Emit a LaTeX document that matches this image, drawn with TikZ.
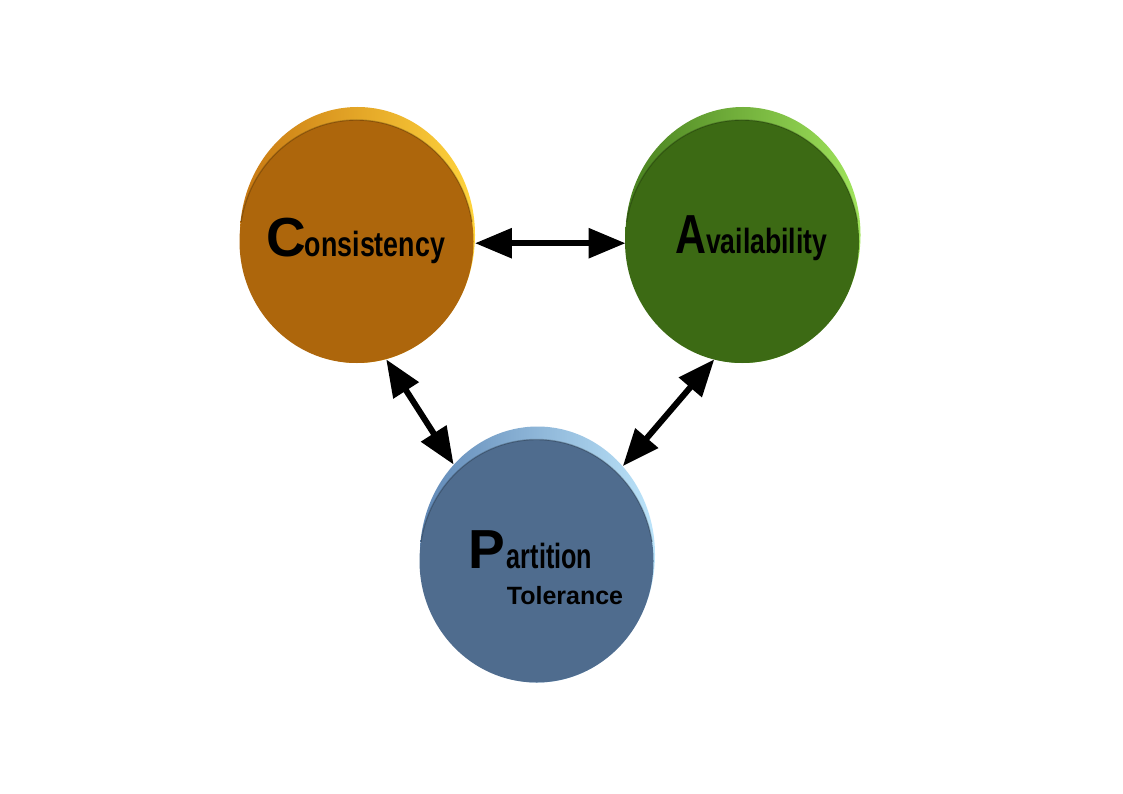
\documentclass[tikz,border=0pt]{standalone}
\usepackage{graphicx}
\usepackage{fontspec}
\setmainfont{Liberation Sans}
\usetikzlibrary{arrows.meta,shapes.geometric}

% colours of the three discs: face, rim shadow side, rim middle, rim lit side
\definecolor{cface}{HTML}{AD660C}
\definecolor{crimD}{HTML}{C87812}
\definecolor{crimM}{HTML}{F29A1C}
\definecolor{crimL}{HTML}{FFD43C}
\definecolor{aface}{HTML}{3C6A14}
\definecolor{arimD}{HTML}{48801E}
\definecolor{arimM}{HTML}{64A42E}
\definecolor{arimL}{HTML}{A0E45C}
\definecolor{pface}{HTML}{4F6C8E}
\definecolor{primD}{HTML}{6088B6}
\definecolor{primM}{HTML}{86B2E0}
\definecolor{primL}{HTML}{BCE4FA}

% initial capital and the narrow rest of each word
\newcommand\initcap{\fontsize{55}{55}\selectfont\bfseries}
\newcommand\narrowcap[2]{\scalebox{#1}[1]{\fontsize{55}{55}\selectfont\bfseries #2}}
\newcommand\narrowtxt[2]{\scalebox{#1}[1]{\fontsize{35}{35}\selectfont\bfseries #2}}
\newcommand\plaintxt{\fontsize{25}{25}\selectfont\bfseries}

% flat face of a disc with a soft shadow line where it meets the rim above
\newcommand\discface[3]{%
  \fill[#1] (#2,#3) ellipse [x radius=117, y radius=121.5];
  \begin{scope}
    \clip (#2-130,#3-140) rectangle (#2+130,#3-20);
    \draw[black, opacity=0.22, line width=1.4pt] (#2,#3) ellipse [x radius=117, y radius=121.5];
  \end{scope}}

\tikzset{
  disc/.style={ellipse, inner sep=0pt, minimum width=235pt, minimum height=256pt},
  label/.style={anchor=base west, inner sep=0pt, text=black},
  link/.style={line width=6pt,
    {Triangle[length=37pt,width=29pt]}-{Triangle[length=37pt,width=29pt]}},
}

\begin{document}
\begin{tikzpicture}[x=1pt,y=-1pt]
  \useasboundingbox[fill=white] (0,0) rectangle (1123,794);

  % Consistency disc: lit rim behind a flat face
  \node[disc, left color=crimD, middle color=crimM, right color=crimL] (C) at (357.5,235) {};
  \discface{cface}{356.5}{241.5}

  % Availability disc
  \node[disc, left color=arimD, middle color=arimM, right color=arimL] (A) at (743,235) {};
  \discface{aface}{742}{241.5}

  % Partition Tolerance disc
  \node[disc, left color=primD, middle color=primM, right color=primL] (P) at (537.5,554.5) {};
  \discface{pface}{536.5}{561}

  % labels
  \node[label] (lc) at (266,256) {\initcap C\kern-1pt\narrowtxt{0.766}{onsistency}};
  \node[label] (la) at (675,253) {\narrowcap{0.78}{A}\narrowtxt{0.76}{vailability}};
  \node[label] (lp) at (468,568) {\initcap P\kern2pt\rlap{\narrowtxt{0.72}{artition}}\raisebox{-36pt}{\plaintxt Tolerance}};

  % two-way links between the discs
  \draw[link] (C.-4) -- (A.184);
  \draw[link] (C.-77) -- (P.133);
  \draw[link] (A.-103) -- (P.46);
\end{tikzpicture}
\end{document}
